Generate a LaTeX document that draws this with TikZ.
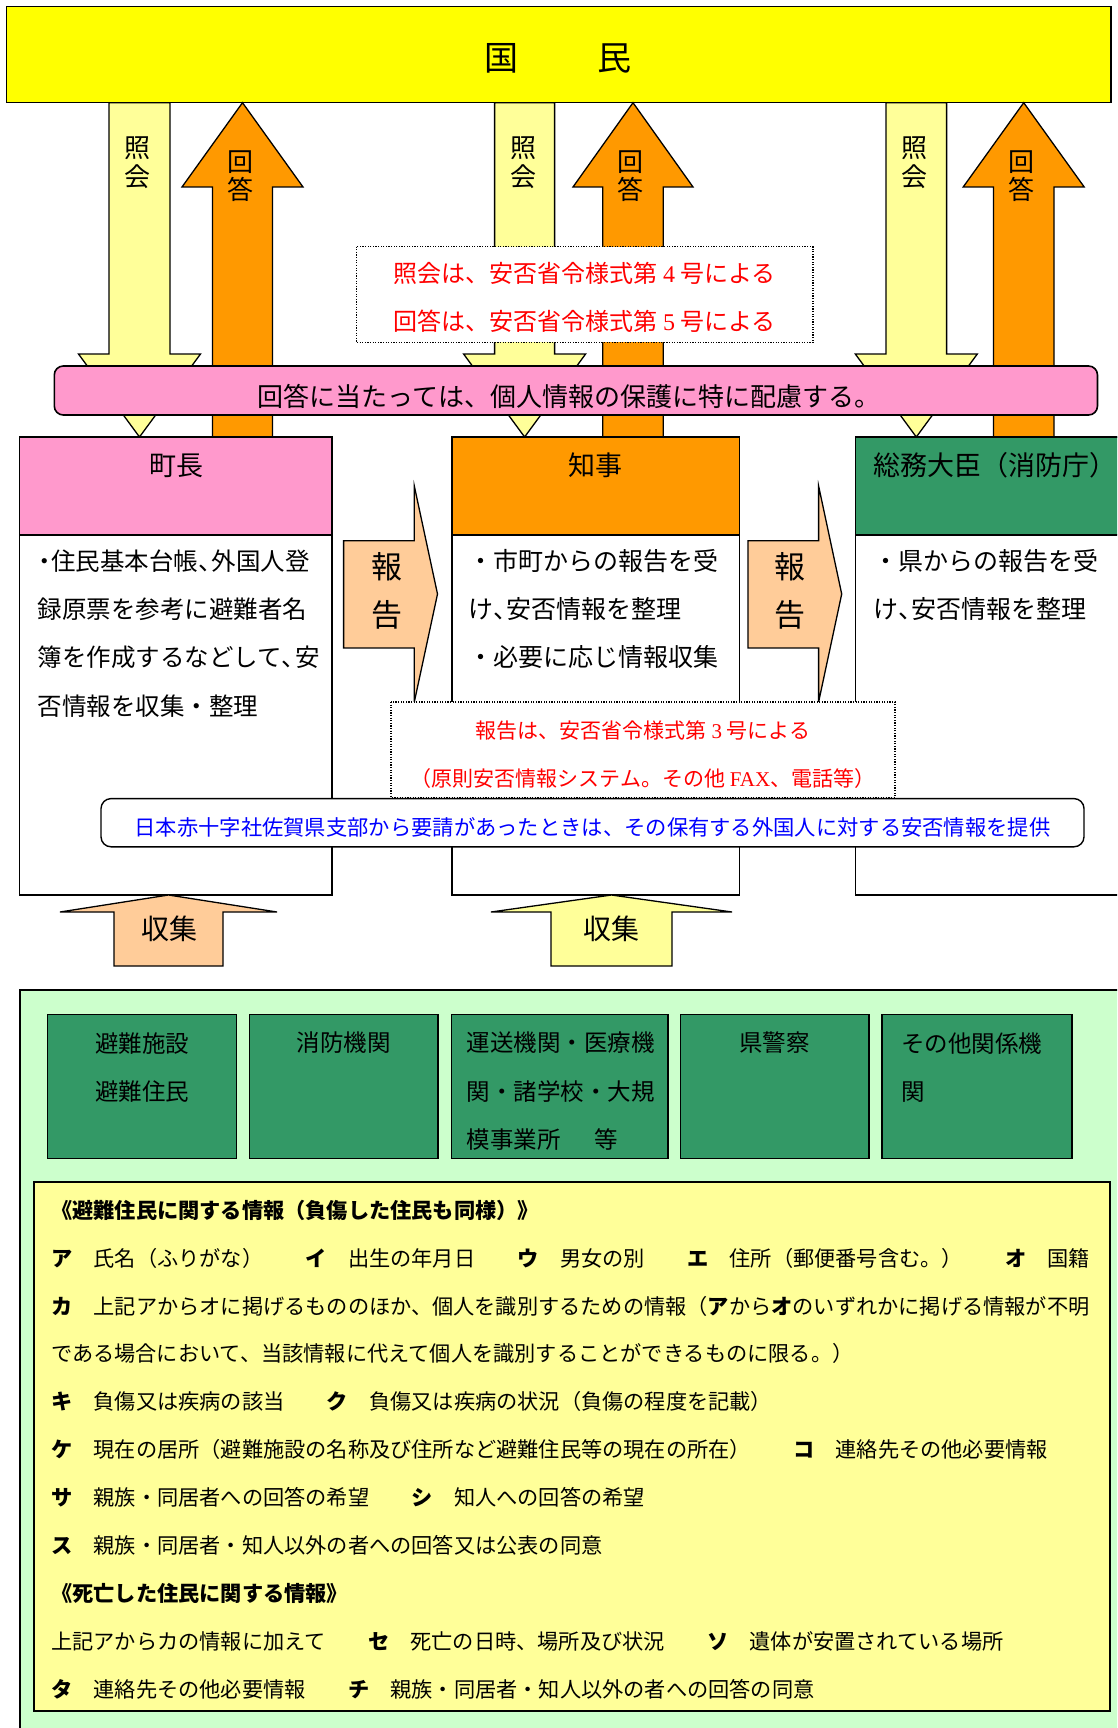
\documentclass[tikz,border=0pt]{standalone}
\usepackage{fontspec}
\setmainfont{Noto Sans CJK JP}
\newfontfamily\latinserif{Liberation Serif}
\definecolor{kyellow}{HTML}{FFFF00}
\definecolor{lyellow}{HTML}{FFFF99}
\definecolor{korange}{HTML}{FF9900}
\definecolor{kpink}{HTML}{FF99CC}
\definecolor{kgreen}{HTML}{339966}
\definecolor{kpeach}{HTML}{FFCC99}
\definecolor{lgreen}{HTML}{CCFFCC}
\definecolor{kred}{HTML}{FF0000}
\definecolor{kblue}{HTML}{0000FF}
\newcommand\fsz[2]{\fontsize{#1}{#2}\selectfont}
\newcommand\hcm{\makebox[0.55em][l]{、}}
\newcommand\hdot{\makebox[0.55em][c]{・}}
\tikzset{
  frame/.style={draw=black, line width=1.6pt},
  blk/.style={draw=black, line width=1.3pt, line join=miter},
  dotbox/.style={draw=black, fill=white, line width=1.1pt, dash pattern=on 1.2pt off 1.4pt},
  vlabel/.style={align=center, inner sep=0pt, font=\fsz{26}{28.5}},
  rlabel/.style={align=center, inner sep=0pt, font=\fsz{31}{48.2}},
  ctitle/.style={inner sep=0pt, font=\fsz{27}{30}},
  btxt/.style={anchor=west, align=left, inner sep=0pt, font=\fsz{25}{48.2}},
  gtxt/.style={inner sep=0pt, align=center, font=\fsz{23.5}{48.5}},
  gbox/.style={draw=black, line width=1.6pt, fill=kgreen},
}
% down block arrow: fill, cx, ytop, yshaftend, ytip, shafthalf, headhalf
\newcommand\arrowdown[7]{%
  \filldraw[blk, fill=#1] (#2-#6,#3) -- (#2+#6,#3) -- (#2+#6,#4) -- (#2+#7,#4)
    -- (#2,#5) -- (#2-#7,#4) -- (#2-#6,#4) -- cycle;}
% up block arrow: fill, cx, ytip, yheadbase, ybottom, shafthalf, headhalf
\newcommand\arrowup[7]{%
  \filldraw[blk, fill=#1] (#2,#3) -- (#2+#7,#4) -- (#2+#6,#4) -- (#2+#6,#5)
    -- (#2-#6,#5) -- (#2-#6,#4) -- (#2-#7,#4) -- cycle;}
% right block arrow: fill, xleft, xbase, xtip, yshafttop, yshaftbottom, yheadtop, yheadbottom
\newcommand\arrowright[8]{%
  \filldraw[blk, fill=#1] (#2,#5) -- (#3,#5) -- (#3,#7) -- (#4,{(#7+#8)/2})
    -- (#3,#8) -- (#3,#6) -- (#2,#6) -- cycle;}
\begin{document}
\begin{tikzpicture}[x=1pt,y=-1pt]
\useasboundingbox (0,0) rectangle (1117,1728);
\clip (0,0) rectangle (1117,1728);
\fill[white] (0,0) rectangle (1117,1728);

% ---------- 国民 ----------
\draw[frame, fill=kyellow] (6.5,6.5) rectangle (1111,102.7);
\node[inner sep=0pt, font=\fsz{34}{40}] (kokumin) at (558,58) {国\hspace{80pt}民};

% ---------- inquiry / answer arrows ----------
\arrowdown{lyellow}{139.5}{102.7}{354}{437}{30.5}{61}
\arrowup{korange}{242.5}{102.7}{187}{437}{30}{60.5}
\arrowdown{lyellow}{524.6}{102.7}{354}{437}{30}{61}
\arrowup{korange}{633}{102.7}{187}{437}{30.3}{60}
\arrowdown{lyellow}{916.3}{102.7}{354}{437}{30.3}{61}
\arrowup{korange}{1023.7}{102.7}{187}{437}{30.3}{60.5}
\node[vlabel] (q1) at (137.5,162.5) {照\\会};
\node[vlabel] (a1) at (240.5,176) {回\\答};
\node[vlabel] (q2) at (523,162.5) {照\\会};
\node[vlabel] (a2) at (630.5,176) {回\\答};
\node[vlabel] (q3) at (914,162.5) {照\\会};
\node[vlabel] (a3) at (1021,176) {回\\答};

% ---------- dotted note 1 ----------
\draw[dotbox] (356.4,246.7) rectangle (813,342.3);
\node[align=center, inner sep=0pt, text=kred, font=\fsz{24}{48.7}] (rule1) at (584.7,297.4)
  {照会は、安否省令様式第 {\latinserif 4} 号による\\回答は、安否省令様式第 {\latinserif 5} 号による};

% ---------- pink bar ----------
\draw[frame, fill=kpink, rounded corners=9pt] (54.3,366) rectangle (1097.5,415);
\node[inner sep=0pt, font=\fsz{26}{30}] (care) at (569,396) {回答に当たっては、個人情報の保護に特に配慮する。};

% ---------- three offices ----------
\draw[frame, fill=white] (19.6,437) rectangle (332,895);
\draw[frame, fill=kpink] (19.6,437) rectangle (332,535);
\node[ctitle] (mayor) at (176,465.7) {町長};
\draw[frame, fill=white] (451.8,437) rectangle (739.5,895);
\draw[frame, fill=korange] (451.8,437) rectangle (739.5,535);
\node[ctitle] (governor) at (595.6,465.7) {知事};
\draw[frame, fill=white] (855.4,437) rectangle (1135,895);
\draw[frame, fill=kgreen] (855.4,437) rectangle (1135,535);
\node[ctitle] (minister) at (995,465.7) {総務大臣（消防庁）};

\node[btxt, font=\fsz{24.5}{48.2}] (body1) at (37.5,633.4)
  {\hdot 住民基本台帳\hcm 外国人登\\録原票を参考に避難者名\\簿を作成するなどして\hcm 安\\否情報を収集・整理};
\node[btxt] (body2) at (468,609)
  {・市町からの報告を受\\け\hcm 安否情報を整理\\・必要に応じ情報収集};
\node[btxt] (body3) at (873,585)
  {・県からの報告を受\\け\hcm 安否情報を整理};

% ---------- report arrows ----------
\arrowright{kpeach}{343.6}{414.3}{437.5}{540.7}{647.9}{486}{702}
\arrowright{kpeach}{747.9}{818.6}{841.7}{540.7}{647.9}{486}{702}
\node[rlabel] (rep1) at (386.8,590.5) {報\\告};
\node[rlabel] (rep2) at (790.2,590.5) {報\\告};

% ---------- dotted note 2 ----------
\draw[dotbox] (391,702) rectangle (895,797.5);
\node[align=center, inner sep=0pt, text=kred, font=\fsz{21}{48.3}] (rule2) at (643,754.8)
  {報告は、安否省令様式第 {\latinserif 3} 号による\\（原則安否情報システム。その他 {\latinserif FAX}、電話等）};

% ---------- red cross note ----------
\draw[draw=black, line width=1.4pt, fill=white, rounded corners=10pt] (101,798.6) rectangle (1084,846.8);
\node[inner sep=0pt, text=kblue, font=\fsz{21.3}{25}] (redcross) at (592.5,827)
  {日本赤十字社佐賀県支部から要請があったときは、その保有する外国人に対する安否情報を提供};

% ---------- collection arrows ----------
\arrowup{kpeach}{168.5}{895}{912}{966}{54.5}{108.5}
\arrowup{lyellow}{611.5}{895}{912}{966}{60.5}{120.5}
\node[inner sep=0pt, font=\fsz{28}{30}] (col1) at (169,929) {収集};
\node[inner sep=0pt, font=\fsz{28}{30}] (col2) at (611,929) {収集};

% ---------- sources panel ----------
\draw[frame, fill=lgreen] (20,990) rectangle (1135,1740);
\draw[gbox] (47.5,1014.5) rectangle (236.5,1158.5);
\draw[gbox] (249.5,1014.5) rectangle (438,1158.5);
\draw[gbox] (451.5,1014.5) rectangle (668,1158.5);
\draw[gbox] (680.5,1014.5) rectangle (869,1158.5);
\draw[gbox] (882,1014.5) rectangle (1072,1158.5);
\node[gtxt] (src1) at (142,1067.4) {避難施設\\避難住民};
\node[gtxt] (src2) at (343.7,1043) {消防機関};
\node[gtxt, anchor=west, align=left] (src3) at (466.6,1091.5) {運送機関・医療機\\関・諸学校・大規\\模事業所\hspace{34pt}等};
\node[gtxt] (src4) at (774.5,1043) {県警察};
\node[gtxt, anchor=west, align=left] (src5) at (901,1067.4) {その他関係機\\関};

% ---------- information list ----------
\draw[frame, fill=lyellow] (34,1182) rectangle (1110,1711);
\node[anchor=west, align=left, inner sep=0pt, font=\fsz{21.2}{47.9}] (info) at (51,1449.5) {%
\textbf{《避難住民に関する情報（負傷した住民も同様）》}\\
\textbf{ア}　氏名（ふりがな）　　\textbf{イ}　出生の年月日　　\textbf{ウ}　男女の別　　\textbf{エ}　住所（郵便番号含む。）　　\textbf{オ}　国籍\\
\textbf{カ}　上記アからオに掲げるもののほか、個人を識別するための情報（\textbf{ア}から\textbf{オ}のいずれかに掲げる情報が不明\\
である場合において、当該情報に代えて個人を識別することができるものに限る。）\\
\textbf{キ}　負傷又は疾病の該当　　\textbf{ク}　負傷又は疾病の状況（負傷の程度を記載）\\
\textbf{ケ}　現在の居所（避難施設の名称及び住所など避難住民等の現在の所在）　　\textbf{コ}　連絡先その他必要情報\\
\textbf{サ}　親族・同居者への回答の希望　　\textbf{シ}　知人への回答の希望\\
\textbf{ス}　親族・同居者・知人以外の者への回答又は公表の同意\\
\textbf{《死亡した住民に関する情報》}\\
上記アからカの情報に加えて　　\textbf{セ}　死亡の日時、場所及び状況　　\textbf{ソ}　遺体が安置されている場所\\
\textbf{タ}　連絡先その他必要情報　　\textbf{チ}　親族・同居者・知人以外の者への回答の同意};
\end{tikzpicture}
\end{document}
